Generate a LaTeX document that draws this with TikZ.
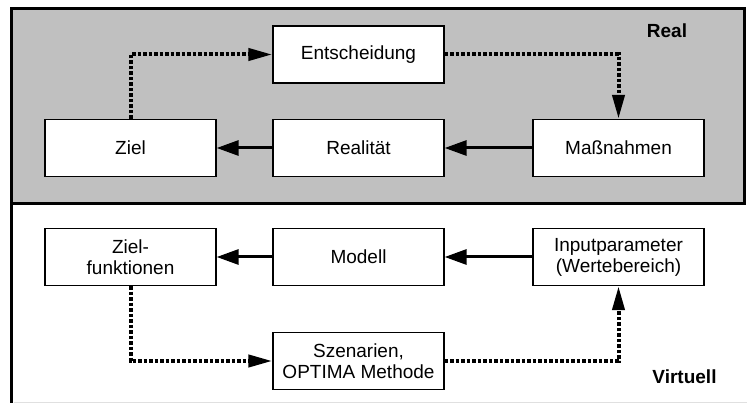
\documentclass[tikz,border=0pt]{standalone}
\usepackage{fontspec}
\setmainfont{Liberation Sans}
\usetikzlibrary{arrows.meta}
\definecolor{realgray}{HTML}{C0C0C0}
\begin{document}
\begin{tikzpicture}[x=1pt,y=-1pt,
  box/.style={draw=black,line width=1.3pt,fill=white,minimum width=171pt,minimum height=57pt,inner sep=0pt,align=center,font=\fontsize{19}{21}\selectfont},
  lbl/.style={font=\fontsize{19}{21}\selectfont\bfseries},
  solidarrow/.style={line width=3pt,-{Triangle[length=22pt,width=15pt]}},
  dotarrow/.style={line width=4pt,dash pattern=on 3.5pt off 2pt,-{Triangle[length=24pt,width=12pt]}}]
\useasboundingbox (0,0) rectangle (747,403);
\fill[white] (0,0) rectangle (747,403);
% upper (real) region
\draw[line width=3.5pt,fill=realgray] (11.5,8.5) rectangle (744.5,203.5);
% lower (virtual) region borders
\draw[line width=3.5pt] (11.5,203.5) -- (11.5,403);
\draw[line width=1pt,black!12] (13.5,402) -- (747,402);
% nodes
\node[box] (ent)  at (358.5,54.5) {Entscheidung};
\node[box] (ziel) at (130.5,148) {Ziel};
\node[box] (real) at (358.5,148) {Realität};
\node[box] (mass) at (618.5,148) {Maßnahmen};
\node[box] (zf)   at (130.5,257) {Ziel-\\funktionen};
\node[box] (mod)  at (358.5,257) {Modell};
\node[box] (inp)  at (618.5,257) {Inputparameter\\(Wertebereich)};
\node[box] (szen) at (358.5,361) {Szenarien,\\OPTIMA Methode};
\node[lbl] (lreal) at (667,31) {Real};
\node[lbl] (lvirt) at (684.5,376.5) {Virtuell};
% connectors
\draw[solidarrow] (real.west) -- (ziel.east);
\draw[solidarrow] (mass.west) -- (real.east);
\draw[solidarrow] (mod.west) -- (zf.east);
\draw[solidarrow] (inp.west) -- (mod.east);
\draw[dotarrow] (ziel.north) |- (ent.west);
\draw[dotarrow] (ent.east) -| (mass.north);
\draw[dotarrow] (zf.south) |- (szen.west);
\draw[dotarrow] (szen.east) -| (inp.south);
\end{tikzpicture}
\end{document}
